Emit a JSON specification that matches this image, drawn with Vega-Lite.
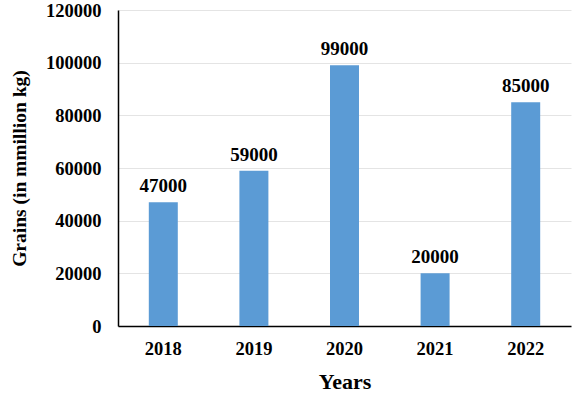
{
  "$schema": "https://vega.github.io/schema/vega-lite/v6.json",
  "width": 453,
  "height": 316,
  "autosize": {"type": "none"},
  "padding": {"left": 118, "top": 10, "right": 8, "bottom": 71},
  "background": "white",
  "config": {
    "view": {"stroke": null},
    "font": "Liberation Serif"
  },
  "data": {
    "values": [
      {"year": "2018", "grains": 47000},
      {"year": "2019", "grains": 59000},
      {"year": "2020", "grains": 99000},
      {"year": "2021", "grains": 20000},
      {"year": "2022", "grains": 85000}
    ]
  },
  "encoding": {
    "x": {
      "field": "year",
      "type": "nominal",
      "sort": null,
      "scale": {"paddingInner": 0.68, "paddingOuter": 0.34},
      "axis": {
        "title": "Years",
        "labelAngle": 0,
        "labelFont": "Liberation Serif",
        "labelFontWeight": "bold",
        "labelFontSize": 18.5,
        "labelColor": "black",
        "labelPadding": 13,
        "ticks": false,
        "domainColor": "black",
        "domainWidth": 1.5,
        "titleFont": "Liberation Serif",
        "titleFontWeight": "bold",
        "titleFontSize": 22,
        "titleColor": "black",
        "titlePadding": 14
      }
    },
    "y": {
      "field": "grains",
      "type": "quantitative",
      "scale": {"domain": [0, 120000], "nice": false},
      "axis": {
        "title": "Grains (in mmillion kg)",
        "values": [0, 20000, 40000, 60000, 80000, 100000, 120000],
        "format": "d",
        "labelFont": "Liberation Serif",
        "labelFontWeight": "bold",
        "labelFontSize": 18.5,
        "labelColor": "black",
        "labelPadding": 17,
        "ticks": false,
        "domainColor": "black",
        "domainWidth": 1.5,
        "grid": true,
        "gridColor": "#e4e4e4",
        "gridWidth": 1,
        "titleFont": "Liberation Serif",
        "titleFontWeight": "bold",
        "titleFontSize": 19.5,
        "titleColor": "black",
        "titlePadding": 16
      }
    }
  },
  "layer": [
    {
      "mark": {"type": "bar", "color": "#5B9BD5"}
    },
    {
      "mark": {
        "type": "text",
        "baseline": "alphabetic",
        "dy": -10,
        "font": "Liberation Serif",
        "fontWeight": "bold",
        "fontSize": 19,
        "color": "black"
      },
      "encoding": {
        "text": {"field": "grains", "type": "quantitative", "format": "d"}
      }
    }
  ]
}
